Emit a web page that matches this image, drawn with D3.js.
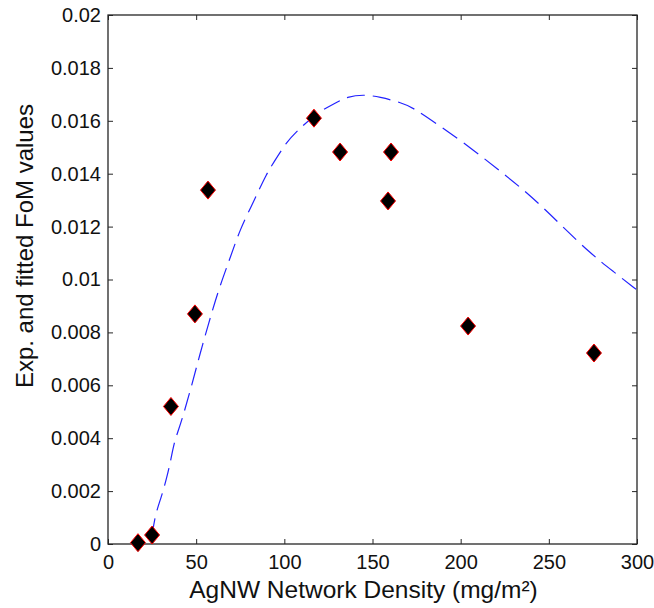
<!DOCTYPE html>
<html>
<head>
<meta charset="utf-8">
<script src="https://cdn.jsdelivr.net/npm/d3@7"></script>
<style>
  html, body { margin: 0; padding: 0; background: #fff; }
  svg { display: block; font-family: "Liberation Sans", Arial, sans-serif; }
</style>
</head>
<body>
<svg id="chart" width="654" height="608"></svg>
<script>
// Experimental points
const densities = [17, 25, 35.7, 49.3, 56.7, 116.8, 131.6, 158.8, 160.5, 204.2, 275.6];
const fomValues = [0.00005, 0.00034, 0.0052, 0.0087, 0.01338, 0.0161, 0.01482, 0.01297, 0.01482, 0.00824, 0.00722];

// Fitted curve
const fitX = [25, 26.7, 30.4, 33.3, 35.7, 37.4, 39.9, 42.4, 47.5, 52.2, 56.9, 62.6, 69.2, 74.9, 81.5, 84.3, 90, 93.7, 101.3, 107, 118.4, 129.7, 135.4, 144.8, 154.2, 165.6, 173.1, 188.3, 205.3, 222.3, 239.3, 256.3, 273.3, 286.6, 300];
const fitY = [0.0003, 0.0011, 0.0018, 0.0025, 0.0032, 0.0038, 0.0043, 0.0048, 0.0060, 0.0072, 0.0083, 0.0096, 0.0108, 0.0119, 0.0128, 0.0132, 0.0140, 0.0144, 0.0152, 0.0156, 0.0163, 0.0167, 0.0169, 0.0170, 0.0169, 0.0167, 0.0165, 0.0158, 0.0150, 0.0141, 0.0132, 0.0121, 0.0110, 0.0103, 0.0096];

const xTicks = [0, 50, 100, 150, 200, 250, 300];
const yTicks = [0, 0.002, 0.004, 0.006, 0.008, 0.01, 0.012, 0.014, 0.016, 0.018, 0.02];
const xTitle = "AgNW Network Density (mg/m²)";
const yTitle = "Exp. and fitted FoM values";

const svg = d3.select("#chart");
const L = 108, R = 637, T = 15, B = 544;

const x = d3.scaleLinear().domain([0, 300]).range([L, R]);
const y = d3.scaleLinear().domain([0, 0.02]).range([B, T]);

const tickFmt = d => d === 0 ? "0" : String(+d.toFixed(3));

// Axes
const axColor = "#262626";
const styleAxis = g => {
  g.select(".domain").remove();
  g.selectAll("line").attr("stroke", axColor);
  g.selectAll("text").attr("fill", "#111").style("font-size", "20px").style("font-family", "'Liberation Sans', Arial, sans-serif");
};

svg.append("g").attr("transform", `translate(0,${B})`)
  .call(d3.axisBottom(x).tickValues(xTicks).tickFormat(tickFmt).tickSizeInner(-5).tickSizeOuter(0).tickPadding(11))
  .call(styleAxis);
svg.append("g").attr("transform", `translate(0,${T})`)
  .call(d3.axisTop(x).tickValues(xTicks).tickFormat("").tickSizeInner(-5).tickSizeOuter(0))
  .call(styleAxis);
svg.append("g").attr("transform", `translate(${L},0)`)
  .call(d3.axisLeft(y).tickValues(yTicks).tickFormat(tickFmt).tickSizeInner(-5).tickSizeOuter(0).tickPadding(7))
  .call(styleAxis);
svg.append("g").attr("transform", `translate(${R},0)`)
  .call(d3.axisRight(y).tickValues(yTicks).tickFormat("").tickSizeInner(-5).tickSizeOuter(0))
  .call(styleAxis);

svg.append("rect").attr("x", L).attr("y", T).attr("width", R - L).attr("height", B - T)
  .attr("fill", "none").attr("stroke", axColor).attr("stroke-width", 1.3);

// Fitted curve
const fit = fitX.map((v, i) => [v, fitY[i]]);
svg.append("path").datum(fit)
  .attr("fill", "none").attr("stroke", "#2222ff").attr("stroke-width", 1.2)
  .attr("stroke-dasharray", "18,8")
  .attr("d", d3.line().x(d => x(d[0])).y(d => y(d[1])).curve(d3.curveBasis));

// Markers
const pts = densities.map((v, i) => [v, fomValues[i]]);
svg.append("g").selectAll("path").data(pts).join("path")
  .attr("transform", d => `translate(${x(d[0])},${y(d[1])})`)
  .attr("d", "M0,-9L7.5,0L0,9L-7.5,0Z")
  .attr("fill", "#000").attr("stroke", "#ff0000").attr("stroke-width", 1);

// Titles
svg.append("text").attr("x", (L + R) / 2 - 9).attr("y", 598).attr("text-anchor", "middle")
  .style("font-size", "24.5px").attr("fill", "#111").text(xTitle);
svg.append("text").attr("transform", `translate(33,246) rotate(-90)`).attr("text-anchor", "middle")
  .style("font-size", "24px").attr("fill", "#111").text(yTitle);
</script>
</body>
</html>
